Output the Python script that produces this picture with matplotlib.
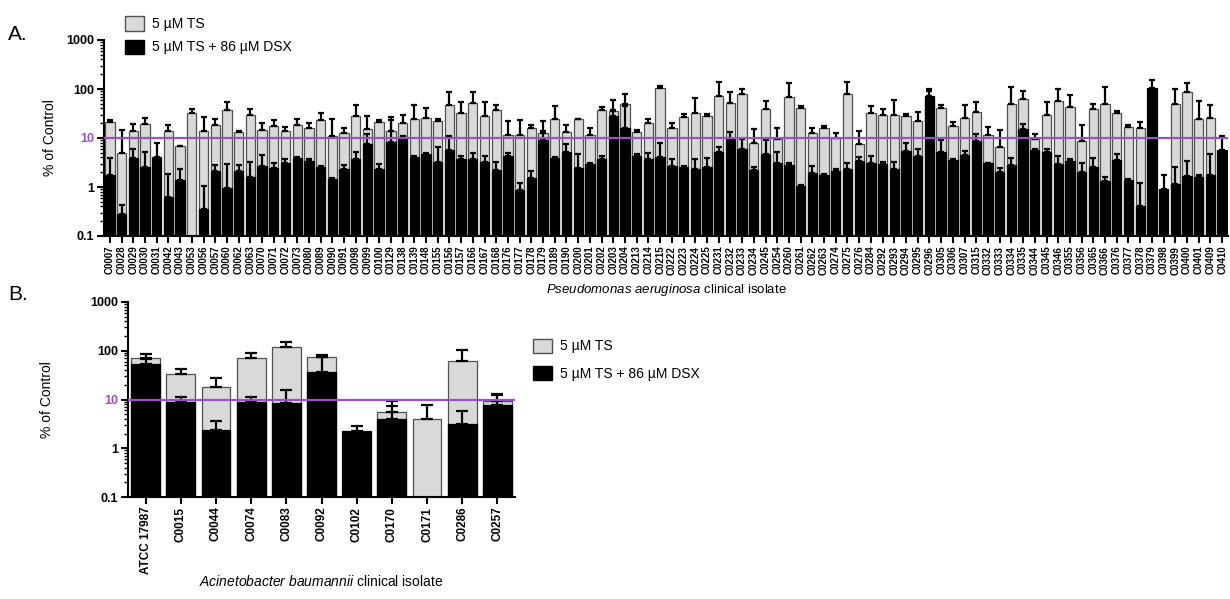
import matplotlib
matplotlib.use('Agg')
import matplotlib.pyplot as plt
from matplotlib.patches import Patch
import numpy as np

plt.rcParams['font.family'] = ['Liberation Sans', 'DejaVu Sans']
plt.rcParams['mathtext.fontset'] = 'custom'
plt.rcParams['mathtext.it'] = 'Liberation Sans:italic'
plt.rcParams['mathtext.rm'] = 'Liberation Sans'

nan = np.nan

# panel A - Pseudomonas aeruginosa
pa_isolates = ['C0007', 'C0028', 'C0029', 'C0030', 'C0031', 'C0042', 'C0043', 'C0053',
               'C0056', 'C0057', 'C0060', 'C0062', 'C0063', 'C0070', 'C0071', 'C0072',
               'C0073', 'C0080', 'C0089', 'C0090', 'C0091', 'C0098', 'C0099', 'C0100',
               'C0129', 'C0138', 'C0139', 'C0148', 'C0155', 'C0156', 'C0157', 'C0166',
               'C0167', 'C0168', 'C0176', 'C0177', 'C0178', 'C0179', 'C0189', 'C0190',
               'C0200', 'C0201', 'C0202', 'C0203', 'C0204', 'C0213', 'C0214', 'C0215',
               'C0222', 'C0223', 'C0224', 'C0225', 'C0231', 'C0232', 'C0233', 'C0234',
               'C0245', 'C0254', 'C0260', 'C0261', 'C0262', 'C0263', 'C0274', 'C0275',
               'C0276', 'C0284', 'C0292', 'C0293', 'C0294', 'C0295', 'C0296', 'C0305',
               'C0306', 'C0307', 'C0315', 'C0332', 'C0333', 'C0334', 'C0335', 'C0344',
               'C0345', 'C0346', 'C0355', 'C0356', 'C0365', 'C0366', 'C0376', 'C0377',
               'C0378', 'C0379', 'C0398', 'C0399', 'C0400', 'C0401', 'C0409', 'C0410']

pa_ts = [21.7, 4.9, 13.7, 19.4, nan, 13.7, 6.95, 32.7,
         13.7, 18.5, 37, 13.5, 28.9, 14.6, 17.4, 13.7,
         18.8, 16.1, 22.8, 11, 12.7, 28, 15.6, 21,
         13.7, 20, 24.6, 25.4, 22.4, 46.4, 32.7, 51.9,
         28, 36.6, 11.5, 11.5, 16.3, 12.7, 24.2, 13.5,
         24.2, 11.7, 36.6, 35.5, 50.3, 13.1, 20, 107,
         16.1, 26.7, 32.3, 28, 72.3, 52.7, 80.8, 7.76,
         39.6, 9.5, 68.9, 40.9, 12.7, 16.1, 10, 80.8,
         7.5, 32.3, 28.9, 28.9, 27.5, 22, 65, 40.9,
         17.9, 25.8, 33.8, 11.7, 6.4, 48.7, 61.7, 9.5,
         28.9, 56.1, 42.8, 8.5, 38.4, 50.3, 32.7, 16.6,
         16.1, nan, nan, 48.7, 87.5, 24.6, 25.4, nan]

pa_ts_err = [1.8, 9.7, 5.7, 6.4, 0, 5.1, 0, 6.9,
             13.0, 5.8, 17, 0.7, 10.7, 6.1, 6.1, 3.2,
             5.8, 3.7, 9.9, 13.6, 3.4, 19.9, 12.0, 2.1,
             13.0, 8.9, 23.3, 16.1, 1.5, 40.6, 21.3, 35.1,
             26, 11.3, 10.9, 11.3, 2.2, 9.7, 20.8, 5.3,
             0, 4.4, 5.6, 25.2, 30.5, 1.5, 3.9, 9,
             3.9, 4.5, 33.5, 2.8, 67.7, 34.3, 17, 7.3,
             18.4, 6.6, 61.1, 4.1, 3.4, 1.3, 2.7, 55.2,
             6.2, 12.7, 10.7, 31.1, 2.8, 11.8, 37, 5.5,
             3.8, 20.6, 20.2, 4.9, 8.2, 62.3, 29.9, 2.5,
             25.1, 45.9, 34.2, 10, 11.9, 60.7, 2.8, 1.9,
             5.6, 0, 0, 49.1, 42.5, 31.5, 21, 0]

pa_dsx = [1.73, 0.28, 3.9, 2.6, 4.1, 0.63, 1.38, nan,
          0.36, 2.1, 0.96, 2.1, 1.62, 2.7, 2.44, 3.1,
          3.9, 3.4, 2.6, 1.43, 2.37, 3.8, 7.5, 2.37,
          8.4, 10.6, 4.1, 4.8, 3.3, 5.75, 3.7, 3.8,
          3.25, 2.2, 4.2, 0.86, 1.55, 9.1, 3.9, 5.1,
          2.5, 3.0, 3.8, 28, 16.1, 4.2, 3.8, 4.1,
          2.7, 2.6, 2.37, 2.6, 5.2, 9.4, 5.9, 2.2,
          4.8, 3.05, 2.8, 1.04, 1.96, 1.73, 2.1, 2.3,
          3.4, 3.15, 2.96, 2.37, 5.5, 4.2, 72.3, 5.2,
          3.6, 4.5, 8.8, 3.05, 2.05, 2.8, 15.3, 5.75,
          5.1, 2.9, 3.4, 2.05, 2.6, 1.32, 3.5, 1.36,
          0.4, 106, 0.89, 1.13, 1.67, 1.62, 1.73, 5.75]

pa_dsx_err = [2.17, 0.14, 2.0, 2.5, 3.8, 1.24, 0.92, 0,
              0.71, 0.7, 1.94, 0.7, 1.63, 1.8, 0.71, 0.65,
              0.2, 0.4, 0.1, 0.12, 0.43, 1.4, 4.4, 0.63,
              14.4, 0.3, 0.2, 0.2, 3.3, 5.05, 0.6, 1.1,
              1.05, 1.1, 0.7, 0.32, 0.6, 5.1, 0.2, 2.4,
              2.2, 0.1, 0.4, 8.6, 27.9, 0.5, 1.1, 3.7,
              1.0, 0.1, 1.33, 1.3, 1.5, 4.1, 3.5, 0.4,
              4.2, 2.15, 0.25, 0.06, 0.74, 0.12, 0.2, 0.75,
              0.6, 1.15, 0.34, 0.93, 2.3, 1.7, 17.7, 4.0,
              0.1, 1.0, 3.5, 0.1, 0.35, 1.1, 4.1, 0.35,
              0.8, 1.3, 0.3, 1.0, 1.3, 0.3, 1.3, 0.1,
              0.78, 44, 0.86, 1.47, 1.73, 0.1, 2.97, 5.05]

# panel B - Acinetobacter baumannii
ab_isolates = ['ATCC 17987', 'C0015', 'C0044', 'C0074', 'C0083', 'C0092',
               'C0102', 'C0170', 'C0171', 'C0286', 'C0257']
ab_ts = [72, 33, 18, 72, 118, 75, nan, 5.5, 3.9, 62, 9.5]
ab_ts_err = [15, 10, 10, 20, 35, 7, 0, 4.0, 3.7, 40, 3.5]
ab_dsx = [53, 9, 2.4, 9, 8.5, 37, 2.3, 4.0, nan, 3.2, 7.6]
ab_dsx_err = [14, 2.5, 1.2, 2.5, 7.5, 38, 0.6, 3.5, 0, 2.5, 5]

legend_labels = ['5 \u00b5M TS', '5 \u00b5M TS + 86 \u00b5M DSX']
threshold = 10

GREY = '#d9d9d9'
PURPLE = '#9b4fd0'


def draw_panel(ax, names, ts, ts_err, dsx, dsx_err, width, capsize, tick_fs):
    x = np.arange(len(names))
    ts = np.array(ts, dtype=float)
    dsx = np.array(dsx, dtype=float)
    ax.bar(x, ts, width=width, color=GREY, edgecolor='#505050', linewidth=0.9, zorder=2)
    ax.errorbar(x, ts, yerr=[np.zeros(len(x)), ts_err], fmt='none', ecolor='black',
                elinewidth=1.6, capsize=capsize, capthick=1.6, zorder=3)
    ax.bar(x, dsx, width=width, color='black', edgecolor='black', linewidth=0.9, zorder=4)
    ax.errorbar(x, dsx, yerr=[np.zeros(len(x)), dsx_err], fmt='none', ecolor='black',
                elinewidth=1.6, capsize=capsize, capthick=1.6, zorder=5)
    ax.axhline(threshold, color=PURPLE, linewidth=1.6, zorder=6)

    ax.set_yscale('log')
    ax.set_ylim(0.1, 1000)
    ax.set_xlim(-0.5, len(names) - 0.5)
    ax.set_yticks([0.1, 1, 10, 100, 1000])
    ax.set_yticklabels(['0.1', '1', '10', '100', '1000'], fontweight='bold', fontsize=9)
    ax.get_yticklabels()[2].set_color(PURPLE)
    ax.set_xticks(x)
    ax.set_xticklabels(names, rotation=90, fontweight='bold', fontsize=tick_fs)
    for s in ['top', 'right']:
        ax.spines[s].set_visible(False)
    for s in ['left', 'bottom']:
        ax.spines[s].set_linewidth(1.5)
    ax.tick_params(axis='y', which='major', length=5, width=1.5, pad=2)
    ax.tick_params(axis='y', which='minor', length=3, width=1.0)
    ax.tick_params(axis='x', length=5, width=1.5, pad=2)
    ax.set_ylabel('% of Control', fontsize=10)


fig = plt.figure(figsize=(12.3, 5.99), dpi=100)

axA = fig.add_axes([104/1230, 1 - 236/599, 1124/1230, 196/599])
draw_panel(axA, pa_isolates, pa_ts, pa_ts_err, pa_dsx, pa_dsx_err, 0.8, 2.2, 7)
axA.yaxis.set_label_coords(-0.042, 0.5)

axB = fig.add_axes([128/1230, 1 - 497/599, 387/1230, 195/599])
draw_panel(axB, ab_isolates, ab_ts, ab_ts_err, ab_dsx, ab_dsx_err, 0.82, 4.5, 8.5)
axB.yaxis.set_label_coords(-0.19, 0.5)

handles = [Patch(facecolor=GREY, edgecolor='#505050'), Patch(facecolor='black', edgecolor='black')]
fig.legend(handles, legend_labels, loc='upper left', bbox_to_anchor=(112/1230, 1 - 4/599),
           frameon=False, fontsize=10, handlelength=1.4, handleheight=1.2, labelspacing=0.6,
           handletextpad=0.6)
fig.legend(handles, legend_labels, loc='upper left', bbox_to_anchor=(520/1230, 1 - 326/599),
           frameon=False, fontsize=10, handlelength=1.4, handleheight=1.2, labelspacing=0.9,
           handletextpad=0.6)

fig.text(666/1230, 1 - 290/599, r'$\it{Pseudomonas\ aeruginosa}$ clinical isolate',
         ha='center', va='center', fontsize=9.5)
fig.text(321/1230, 1 - 581/599, r'$\it{Acinetobacter\ baumannii}$ clinical isolate',
         ha='center', va='center', fontsize=10)

fig.text(8/1230, 1 - 40/599, 'A.', fontsize=15)
fig.text(8/1230, 1 - 300/599, 'B.', fontsize=15)

fig.savefig('out.png', dpi=100)
